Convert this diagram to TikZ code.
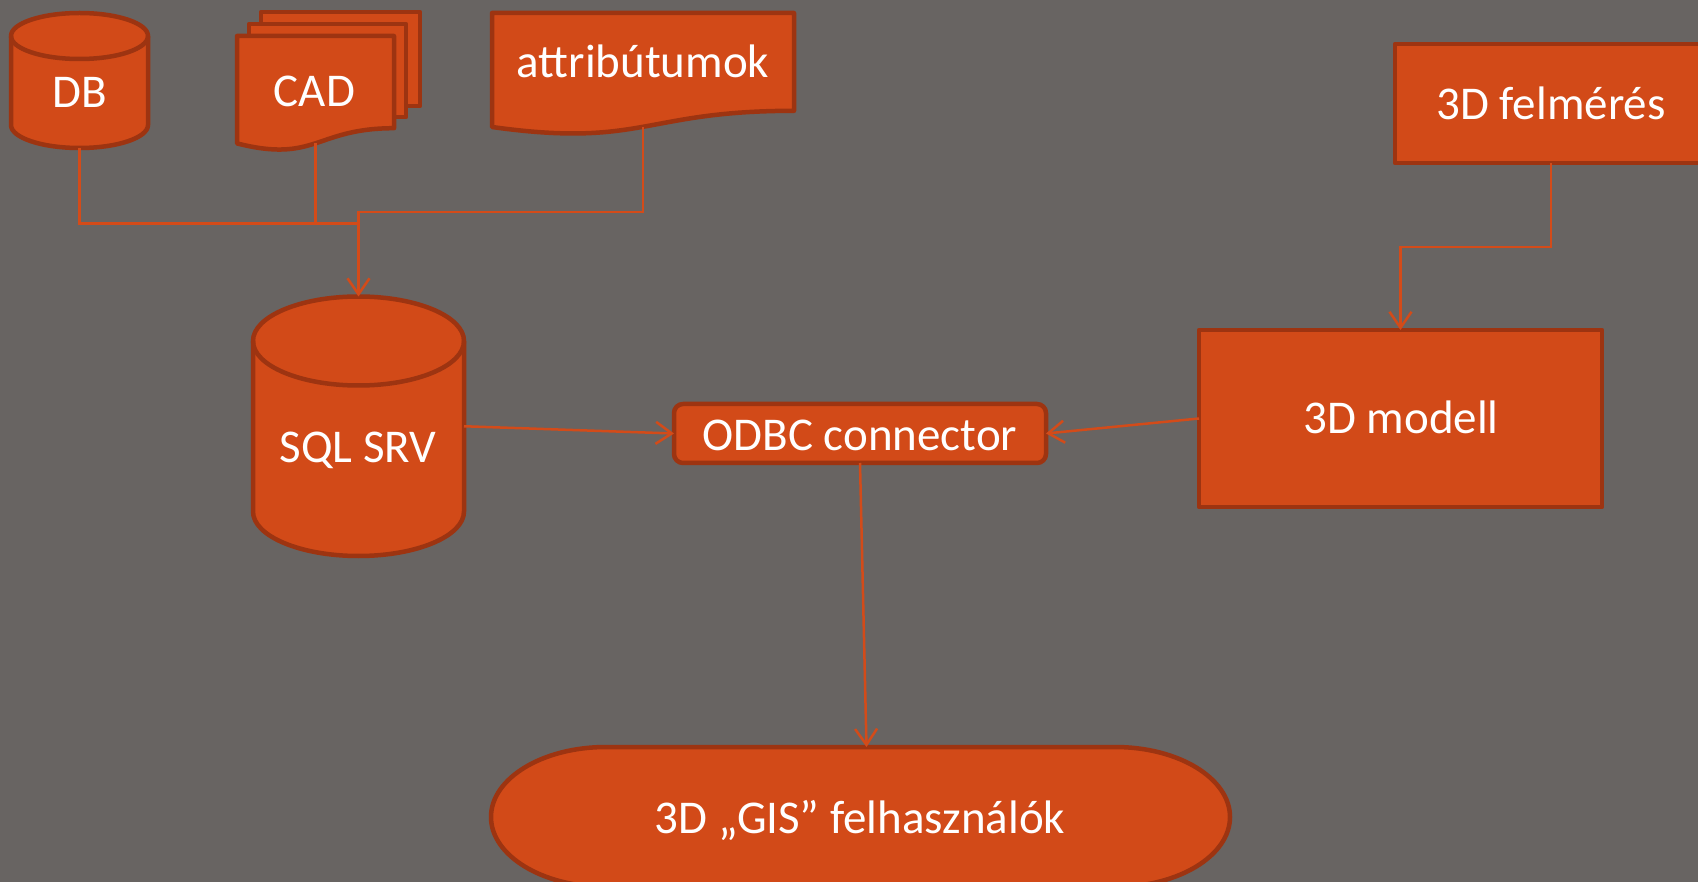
\documentclass[tikz,border=0pt]{standalone}
\usepackage{fontspec}
\setmainfont{Carlito}
\usetikzlibrary{arrows.meta,calc}
\definecolor{bggray}{HTML}{686462}
\definecolor{boxfill}{HTML}{D24A18}
\definecolor{boxline}{HTML}{9D3411}
\definecolor{linkcol}{HTML}{D34B19}

\begin{document}
\begin{tikzpicture}[x=1pt,y=1pt,
  shapeline/.style={draw=boxline, fill=boxfill, line width=4.5pt, line join=round},
  frontline/.style={draw=boxline, line width=4.5pt},
  anchorbox/.style={draw=none, fill=none, inner sep=0pt, outer sep=0pt},
  boxnode/.style={shapeline, inner sep=0pt, outer sep=0pt},
  lbl/.style={text=white, font=\fontsize{47pt}{56pt}\selectfont, inner sep=0pt, anchor=base},
  conn/.style={draw=linkcol, line width=2.5pt},
  arr/.style={conn, -{Straight Barb[length=16pt,width=22pt]}},
]
% canvas
\fill[bggray] (0,0) rectangle (1698,-882);
\useasboundingbox (0,0) rectangle (1698,-882);
\clip (0,0) rectangle (1698,-882);

% ---- DB cylinder ----
\path[shapeline] (11,-36) -- (11,-125)
  arc[start angle=180, end angle=360, x radius=68.5, y radius=23] -- (148,-36)
  arc[start angle=0, end angle=180, x radius=68.5, y radius=23] -- cycle;
\draw[frontline] (11,-36) arc[start angle=180, end angle=360, x radius=68.5, y radius=23];
\node[anchorbox, minimum width=137pt, minimum height=135pt] (db) at (79.5,-80.5) {};

% ---- CAD stacked documents ----
\path[shapeline] (261,-12) rectangle (420,-106);
\path[shapeline] (249,-24) rectangle (406,-117);
\path[shapeline] (237,-36) -- (394,-36) -- (394,-128.2)
  .. controls (315.5,-128.2) and (315.5,-163.4) .. (237,-143.4) -- cycle;
\node[anchorbox, minimum width=157pt, minimum height=107.3pt] (cad) at (315.5,-89.65) {};

% ---- attributes document ----
\path[shapeline] (492,-13) -- (794,-13) -- (794,-110.8)
  .. controls (643,-110.8) and (643,-148.1) .. (492,-127) -- cycle;
\node[anchorbox, minimum width=302pt, minimum height=113.8pt] (attr) at (643,-69.9) {};

% ---- SQL server cylinder ----
\path[shapeline] (253,-341) -- (253,-511.5)
  arc[start angle=180, end angle=360, x radius=105.5, y radius=44.5] -- (464,-341)
  arc[start angle=0, end angle=180, x radius=105.5, y radius=44.5] -- cycle;
\draw[frontline] (253,-341) arc[start angle=180, end angle=360, x radius=105.5, y radius=44.5];
\node[anchorbox, minimum width=211pt, minimum height=259.5pt] (sql) at (358.5,-426.25) {};

% ---- rectangles ----
\node[boxnode, minimum width=312pt, minimum height=119pt] (felm) at (1551,-103.5) {};
\node[boxnode, minimum width=403pt, minimum height=177pt] (modell) at (1400.5,-418.5) {};
\node[boxnode, rounded corners=9pt, minimum width=372pt, minimum height=59pt] (odbc) at (860,-433.5) {};

% ---- terminator ----
\path[shapeline] (606,-747) -- (1115,-747)
  arc[start angle=90, end angle=-90, x radius=115, y radius=70] -- (606,-887)
  arc[start angle=270, end angle=90, x radius=115, y radius=70] -- cycle;
\node[anchorbox, minimum width=739pt, minimum height=140pt] (gis) at (860.5,-817) {};

% ---- labels ----
\node[lbl] (dbtext) at (80,-108) {DB};
\node[lbl] (cadtext) at (314.5,-107) {CAD};
\node[lbl] (attrtext) at (643,-78) {attribútumok};
\node[lbl] (sqltext) at (358,-463) {SQL SRV};
\node[lbl] (felmtext) at (1551,-120) {3D felmérés};
\node[lbl] (modelltext) at (1401,-434) {3D modell};
\node[lbl] (odbctext) at (860,-450) {ODBC connector};
\node[lbl] (gistext) at (860,-833) {3D „GIS” felhasználók};

% ---- connectors ----
\path (sql.north) ++(0,73) coordinate (join);
\draw[conn] (db.south) |- (join);
\draw[conn] (cad.south) |- (join);
\draw[arr] (attr.south) -- ++(0,-85) -| (sql.north);
\draw[arr] (felm.south) -- ++(0,-84) -| (modell.north);
\draw[arr] (sql.east) -- (odbc.west);
\draw[arr] (modell.west) -- (odbc.east);
\draw[arr] (odbc.south) -- ([xshift=6pt]gis.north);
\end{tikzpicture}
\end{document}
